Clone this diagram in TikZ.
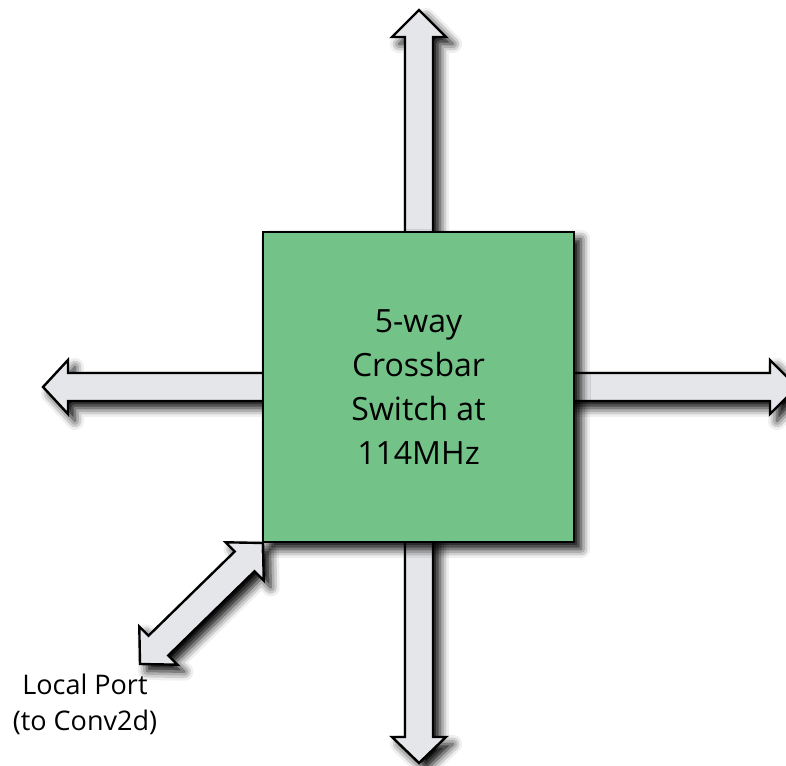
\documentclass[tikz,border=0pt]{standalone}
\usepackage{fontspec}
\setmainfont{Open Sans}
\usetikzlibrary{calc,shadows.blur}
\definecolor{xbargreen}{RGB}{115,195,137}
\definecolor{portgray}{RGB}{229,230,233}
\tikzset{
  portarrow/.style={draw=black, line width=2.4pt, fill=portgray,
    blur shadow={shadow xshift=7pt, shadow yshift=-7pt, shadow blur radius=9pt, shadow opacity=100}},
  xbarbox/.style={draw=black, line width=2.4pt, fill=xbargreen,
    minimum width=311pt, minimum height=310pt, align=center,
    font=\fontsize{32}{44}\selectfont,
    blur shadow={shadow xshift=7pt, shadow yshift=-7pt, shadow blur radius=9pt, shadow opacity=100}},
  portlabel/.style={align=center, inner sep=0pt, font=\fontsize{27}{36}\selectfont}
}
\begin{document}
\begin{tikzpicture}[x=1pt, y=1pt]
\useasboundingbox (0,0) rectangle (786,765);
\clip (0,0) rectangle (786,765);
% ports north and south
\draw[portarrow] (405,378) -- (405,728) -- (392,728) -- (419,755) -- (446,728) -- (433,728) -- (433,378) -- cycle;
\draw[portarrow] (405,378) -- (405,28) -- (392,28) -- (419,2) -- (446,28) -- (433,28) -- (433,378) -- cycle;
% ports west and east (east tip runs off the page)
\draw[portarrow] (419,364) -- (68,364) -- (68,351) -- (43,378) -- (68,405) -- (68,392) -- (419,392) -- cycle;
\draw[portarrow] (419,364) -- (770,364) -- (770,351) -- (797,378) -- (770,405) -- (770,392) -- (419,392) -- cycle;
% local port, two heads at 45 degrees
\coordinate (lptip) at (263,222);
\coordinate (lpend) at (140,101);
\draw[portarrow] (lptip) -- ($(lptip)+(225:26)+(315:27)$) -- ($(lptip)+(225:26)+(315:14)$)
  -- ($(lpend)+(45:26)+(315:14)$) -- ($(lpend)+(45:26)+(315:27)$) -- (lpend)
  -- ($(lpend)+(45:26)+(135:27)$) -- ($(lpend)+(45:26)+(135:14)$)
  -- ($(lptip)+(225:26)+(135:14)$) -- ($(lptip)+(225:26)+(135:27)$) -- cycle;
% switch on top of the ports
\node[xbarbox] (xbar) at (418.5,378) {5-way\\Crossbar\\Switch at\\114MHz};
\node[portlabel, anchor=north] (lplabel) at (85,91) {Local Port\\(to Conv2d)};
\end{tikzpicture}
\end{document}
